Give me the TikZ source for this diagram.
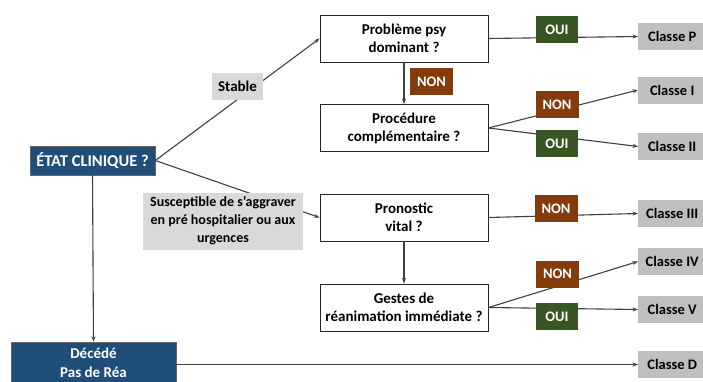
\documentclass[tikz,border=0pt]{standalone}
\usepackage{fontspec}
\setmainfont{Carlito}
\usepackage{tikz}
\usetikzlibrary{arrows.meta, positioning}
\usepackage{xcolor}
\definecolor{mblue}{HTML}{1F4E79}
\definecolor{mbrown}{HTML}{843C0C}
\definecolor{mgreen}{HTML}{375623}
\definecolor{mclasse}{HTML}{BFBFBF}
\definecolor{mlabel}{HTML}{D9D9D9}
\definecolor{mline}{HTML}{404040}
\tikzset{
  qbox/.style={draw=black!85, fill=white, line width=0.9pt, align=center,
               minimum width=168pt, minimum height=47pt, inner sep=2pt,
               font=\bfseries\fontsize{15}{18}\selectfont},
  dbox/.style={draw=black!60, fill=mblue, text=white, line width=0.6pt, align=center,
               inner sep=2pt, font=\bfseries\fontsize{15}{19}\selectfont},
  cbox/.style={fill=mclasse, anchor=west, minimum width=68pt, minimum height=27pt,
               inner sep=2pt, font=\bfseries\fontsize{14.5}{17}\selectfont},
  nonlbl/.style={fill=mbrown, text=white, minimum width=43pt, minimum height=27pt,
                 inner sep=1pt, font=\bfseries\fontsize{14.5}{17}\selectfont},
  ouilbl/.style={fill=mgreen, text=white, minimum width=42pt, minimum height=27pt,
                 inner sep=1pt, font=\bfseries\fontsize{14.5}{17}\selectfont},
  glbl/.style={fill=mlabel, align=center, inner sep=2pt,
               font=\bfseries\fontsize{14}{18}\selectfont},
  arr/.style={-{Stealth[length=5.5pt,width=4pt]}, line width=1.1pt, mline},
}

\begin{document}
\begin{tikzpicture}[x=1pt, y=-1pt]
  \useasboundingbox (0,0) rectangle (703,381);
  \clip (0,0) rectangle (703,381);

  % Etat clinique et deces
  \node[dbox, minimum width=125pt, minimum height=29pt, font=\bfseries\fontsize{16.5}{19}\selectfont]
    (etat) at (92.5,160.5) {ÉTAT CLINIQUE ?};
  \node[dbox, minimum width=165pt, minimum height=42pt] (deces) at (93.5,363) {Décédé\\Pas de Réa};

  % Questions
  \node[qbox] (psy)    at (404,38.5)  {Problème psy\\dominant ?};
  \node[qbox] (proc)   at (404,128)   {Procédure\\complémentaire ?};
  \node[qbox] (pron)   at (404,217.5) {Pronostic\\vital ?};
  \node[qbox] (gestes) at (404,307.5) {Gestes de\\réanimation immédiate ?};

  % Classes
  \node[cbox] (clP)   at (638,36.5)  {Classe P};
  \node[cbox] (clI)   at (638,90)    {Classe I};
  \node[cbox] (clII)  at (638,146.5) {Classe II};
  \node[cbox] (clIII) at (638,213.5) {Classe III};
  \node[cbox] (clIV)  at (638,261.5) {Classe IV};
  \node[cbox] (clV)   at (638,309.5) {Classe V};
  \node[cbox] (clD)   at (638,364.5) {Classe D};

  % Connecteurs
  \draw[arr] (etat.east) -- (psy.west);
  \draw[arr] (etat.east) -- (pron.west);
  \draw[arr] (etat.south) -- (deces.north);
  \draw[arr] (psy.south) -- (proc.north);
  \draw[arr] (pron.south) -- (gestes.north);
  \draw[arr] (psy.east) -- (clP.west);
  \draw[arr] (proc.east) -- (clI.west);
  \draw[arr] (proc.east) -- (clII.west);
  \draw[arr] (pron.east) -- (clIII.west);
  \draw[arr] (gestes.east) -- (clIV.west);
  \draw[arr] (gestes.east) -- (clV.west);
  \draw[arr] (deces.east |- clD.west) -- (clD.west);

  % Etiquettes
  \node[glbl, minimum width=51pt, minimum height=27pt, font=\bfseries\fontsize{15}{18}\selectfont]
    (stable) at (237.5,86.5) {Stable};
  \node[glbl, minimum width=160pt, minimum height=57pt] (suscept) at (223,221)
    {Susceptible de s’aggraver\\en pré hospitalier ou aux\\urgences};
  \node[nonlbl] (nonPsy)  at (431.5,81.5) {NON};
  \node[ouilbl] (ouiP)    at (557,29.5)   {OUI};
  \node[nonlbl] (nonI)    at (557,104.5)  {NON};
  \node[ouilbl] (ouiII)   at (557,143.5)  {OUI};
  \node[nonlbl] (nonIII)  at (556,208.5)  {NON};
  \node[nonlbl] (nonIV)   at (557.5,274)  {NON};
  \node[ouilbl] (ouiV)    at (557,316.5)  {OUI};

\end{tikzpicture}
\end{document}
